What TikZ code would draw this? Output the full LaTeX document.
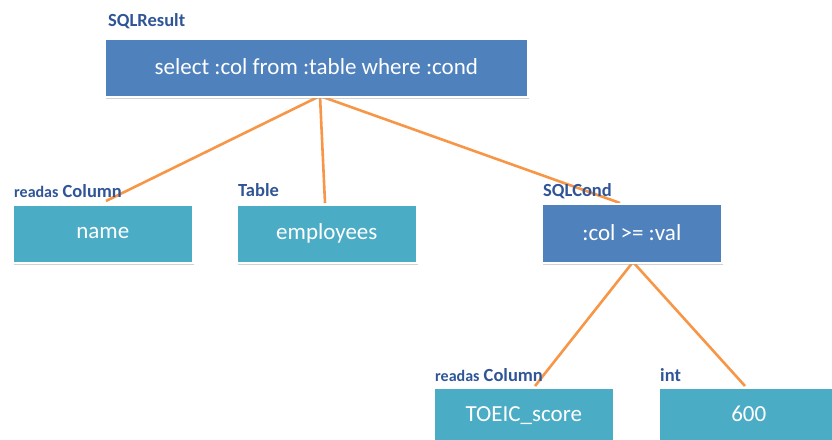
\documentclass[tikz,border=0pt]{standalone}
\usepackage{fontspec}
\setmainfont{Carlito}
\usetikzlibrary{shadows}
\definecolor{darkbox}{HTML}{4F81BD}
\definecolor{lightbox}{HTML}{4BACC6}
\definecolor{edgeorange}{HTML}{F79646}
\definecolor{labelblue}{HTML}{2F5597}
\newcommand\rdsmall[1]{{\fontsize{16}{18}\selectfont #1}}
\begin{document}
\begin{tikzpicture}[x=1pt,y=-1pt,
  boxbase/.style={draw=white,line width=1.6pt,text=white,anchor=north west,inner sep=0pt,
    font=\fontsize{23}{26}\selectfont,
    drop shadow={shadow xshift=1pt,shadow yshift=-2pt,fill=black!35,opacity=0.5}},
  darknode/.style={boxbase,fill=darkbox},
  lightnode/.style={boxbase,fill=lightbox},
  tag/.style={anchor=base west,inner sep=0pt,text=labelblue,font=\bfseries\fontsize{18.5}{20}\selectfont},
  conn/.style={draw=edgeorange,line width=2.6pt}]
\useasboundingbox (0,0) rectangle (832,439);
% connector endpoints
\coordinate (rootb) at (320,96);
\coordinate (nameT) at (106,201);
\coordinate (empT) at (325,203);
\coordinate (condT) at (620,203);
\coordinate (condb) at (633,262);
\coordinate (toeicT) at (535,386);
\coordinate (sixT) at (745,386);
\draw[conn] (rootb) -- (nameT);
\draw[conn] (rootb) -- (empT);
\draw[conn] (rootb) -- (condT);
\draw[conn] (condb) -- (toeicT);
\draw[conn] (condb) -- (sixT);
% boxes
\node[darknode,minimum width=423pt,minimum height=58pt] (root) at (104,38) {\raisebox{2pt}{select :col from :table where :cond}};
\node[lightnode,minimum width=180pt,minimum height=58pt] (name) at (12,204) {\raisebox{2pt}{name}};
\node[lightnode,minimum width=180pt,minimum height=58pt] (emp) at (236,204) {\raisebox{2pt}{employees}};
\node[darknode,minimum width=180pt,minimum height=59pt] (cond) at (541,203) {\raisebox{2pt}{:col >= :val}};
\node[lightnode,minimum width=180pt,minimum height=58pt] (toeic) at (433,387) {\raisebox{6pt}{TOEIC\_score}};
\node[lightnode,minimum width=180pt,minimum height=58pt] (six) at (658,387) {\raisebox{6pt}{600}};
% labels
\node[tag] (lname) at (14,197) {\rdsmall{readas} Column};
\node[tag] (lroot) at (108,27) {SQLResult};
\node[tag] (lemp) at (238,196) {Table};
\node[tag] (lcond) at (543,196) {SQLCond};
\node[tag] (ltoeic) at (435,381) {\rdsmall{readas} Column};
\node[tag] (lsix) at (660,381) {int};
\end{tikzpicture}
\end{document}
